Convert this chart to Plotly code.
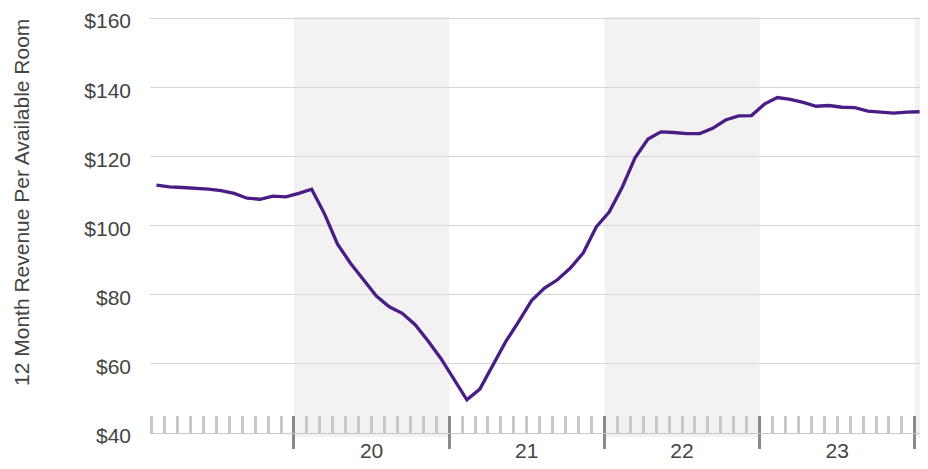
import plotly.graph_objects as go

# ---- data -------------------------------------------------------------
months = [
    "2019-02", "2019-03", "2019-04", "2019-05", "2019-06", "2019-07", "2019-08",
    "2019-09", "2019-10", "2019-11", "2019-12",
    "2020-01", "2020-02", "2020-03", "2020-04", "2020-05", "2020-06", "2020-07",
    "2020-08", "2020-09", "2020-10", "2020-11", "2020-12",
    "2021-01", "2021-02", "2021-03", "2021-04", "2021-05", "2021-06", "2021-07",
    "2021-08", "2021-09", "2021-10", "2021-11", "2021-12",
    "2022-01", "2022-02", "2022-03", "2022-04", "2022-05", "2022-06", "2022-07",
    "2022-08", "2022-09", "2022-10", "2022-11", "2022-12",
    "2023-01", "2023-02", "2023-03", "2023-04", "2023-05", "2023-06", "2023-07",
    "2023-08", "2023-09", "2023-10", "2023-11", "2023-12",
    "2024-01",
]
revpar = [
    111.7, 111.2, 111.0, 110.8, 110.5, 110.1, 109.3, 107.9, 107.6, 108.5, 108.3,
    109.3, 110.5, 103.3, 94.6, 89.1, 84.5, 79.6, 76.5, 74.6, 71.3, 66.6, 61.5,
    55.7, 49.6, 52.7, 59.7, 66.4, 72.2, 78.3, 81.9, 84.3, 87.7, 92.1, 99.6,
    103.9, 111.0, 119.6, 125.0, 127.1, 126.9, 126.6, 126.6, 128.1, 130.5, 131.7,
    131.8, 135.1, 137.0, 136.5, 135.6, 134.5, 134.7, 134.2, 134.1, 133.1, 132.8,
    132.5, 132.8, 132.9,
]
year_labels = ["20", "21", "22", "23"]
label_years = [2020, 2021, 2022, 2023]
boundary_years = [2020, 2021, 2022, 2023, 2024]
shaded_years = [2020, 2022, 2024]
y_ticks = [40, 60, 80, 100, 120, 140, 160]
y_title = "12 Month Revenue Per Available Room"

# ---- helpers ----------------------------------------------------------
BASE_YEAR = 2019


def month_pos(label):
    y, m = label.split("-")
    return (int(y) - BASE_YEAR) * 12 + int(m) - 1 + 0.37


def year_start(y):
    return (y - BASE_YEAR) * 12


xs = [month_pos(m) for m in months]
x_range = [0.87, 60.40]

PURPLE = "#4a1c86"
TEXT = "#444444"
FONT = "Liberation Sans, Arial, sans-serif"
FS = 21

fig = go.Figure()
fig.add_trace(go.Scatter(
    x=xs, y=revpar, mode="lines",
    line=dict(color=PURPLE, width=3.3),
    showlegend=False, hoverinfo="y", cliponaxis=False,
))
# helper traces (draw nothing) so the overlay axes get rendered
for ax in ("x2", "x3"):
    fig.add_trace(go.Scatter(x=xs, y=revpar, mode="none", xaxis=ax,
                             showlegend=False, hoverinfo="skip"))

for yr in shaded_years:
    fig.add_shape(type="rect", xref="x", yref="paper",
                  x0=year_start(yr), x1=year_start(yr) + 12,
                  y0=-0.01, y1=1.0,
                  fillcolor="#f2f2f2", line=dict(width=0), layer="below")

fig.add_annotation(text=y_title, xref="paper", yref="paper",
                   x=-0.1662, y=0.553, textangle=-90, showarrow=False,
                   xanchor="center", yanchor="middle",
                   font=dict(size=FS, color=TEXT, family=FONT))

fig.update_layout(
    width=912, height=453,
    margin=dict(l=142, r=0, t=8.7, b=27.7, autoexpand=False),
    paper_bgcolor="white", plot_bgcolor="rgba(0,0,0,0)",
    font=dict(family=FONT, size=FS, color=TEXT),
    xaxis=dict(
        range=x_range, showgrid=False, zeroline=False, automargin=False,
        showline=True, linecolor="#c8c8c8", linewidth=1,
        tickmode="array", tickvals=[year_start(y) for y in boundary_years],
        ticks="outside", ticklen=15, tickwidth=3, tickcolor="#8a8a8a",
        showticklabels=False,
        minor=dict(tick0=0, dtick=1, ticks="inside", ticklen=17,
                   tickwidth=3, tickcolor="#c8c8c8", showgrid=False),
    ),
    xaxis2=dict(
        overlaying="x", anchor="y", side="bottom", range=x_range,
        showgrid=False, zeroline=False, showline=False, automargin=False,
        tickmode="array", tickvals=[year_start(y) for y in boundary_years],
        ticks="inside", ticklen=17, tickwidth=3, tickcolor="#8a8a8a",
        showticklabels=False,
    ),
    xaxis3=dict(
        overlaying="x", anchor="y", side="bottom", range=x_range,
        showgrid=False, zeroline=False, showline=False, automargin=False,
        tickmode="array", tickvals=[year_start(y) + 6 for y in label_years],
        ticktext=year_labels, ticks="",
        tickfont=dict(size=FS, color=TEXT, family=FONT),
        ticklabelstandoff=3, ticklabeloverflow="allow",
    ),
    yaxis=dict(
        range=[40, 160.3], showgrid=True, gridcolor="#d6d6d6", gridwidth=1,
        zeroline=False, showline=False, ticks="", automargin=False,
        tickmode="array", tickvals=y_ticks,
        ticktext=[f"${v}" for v in y_ticks],
        tickfont=dict(size=FS, color=TEXT, family=FONT),
        ticklabelstandoff=18, ticklabelshift=3, ticklabeloverflow="allow",
    ),
)

fig.write_html("out.html")
